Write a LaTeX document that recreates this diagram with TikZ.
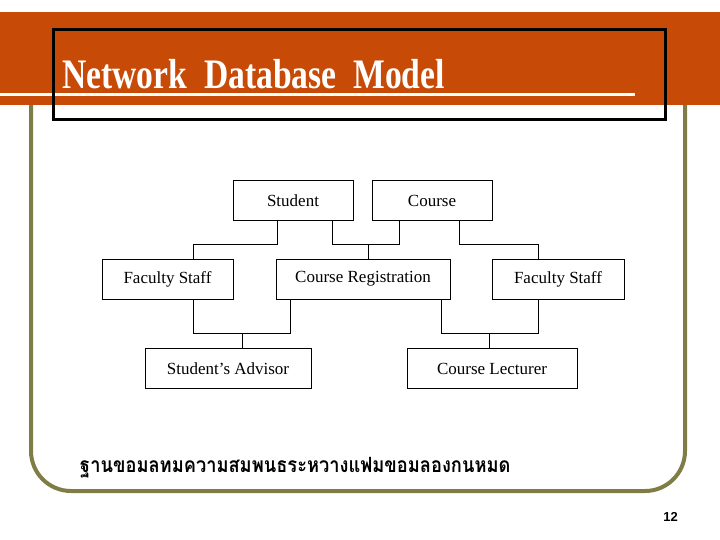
\documentclass[tikz,border=0pt]{standalone}
\usepackage{fontspec}
\setmainfont{Liberation Serif}
\newfontfamily\thaifont[Script=Thai]{Loma}
\newfontfamily\numfont{Liberation Sans}
\usetikzlibrary{positioning}
\definecolor{band}{RGB}{199,74,6}
\definecolor{olive}{RGB}{128,124,70}
\tikzset{
  entity/.style={draw,line width=0.6pt,minimum height=40pt,inner sep=0pt,font=\fontsize{17}{19}\selectfont},
  link/.style={line width=0.6pt}
}
\begin{document}
\begin{tikzpicture}[x=1pt,y=-1pt]
        \useasboundingbox (0,0) rectangle (720,540);

        % Slide frame
        \fill[band] (0,12) rectangle (720,105);
        \draw[olive,line width=4pt,rounded corners=40pt] (31,105) -- (31,491) -- (685,491) -- (685,105);
        \draw[white,line width=3pt] (0,95) -- (635,95);
        \draw[line width=3pt] (53,30) rectangle (665,120);
        \node[anchor=base west,text=white,inner sep=0pt] (title) at (62,89)
          {\scalebox{0.8}[1]{\fontsize{42}{44}\selectfont\bfseries Network\ \ Database\ \ Model}};

        % Records
        \node[entity,minimum width=120pt] (student) at (293,200.5) {Student};
        \node[entity,minimum width=120pt] (course) at (432,200.5) {Course};
        \node[entity,minimum width=131pt] (staffl) at (167.5,279) {Faculty Staff};
        \node[entity,minimum width=174pt] (reg) at (363,279) {Course Registration};
        \node[entity,minimum width=132pt] (staffr) at (558,279) {Faculty Staff};
        \node[entity,minimum width=166pt] (advisor) at (228,368.5) {Student's Advisor};
        \node[entity,minimum width=170pt] (lecturer) at (492,368.5) {Course Lecturer};

        % Links
        \draw[link] (student.south -| 277,0) |- (193,244) -- (staffl.north -| 193,0);
        \draw[link] (student.south -| 332,0) |- (399,244) -- (course.south -| 399,0);
        \draw[link] (368,244) -- (reg.north -| 368,0);
        \draw[link] (course.south -| 459,0) |- (538,244) -- (staffr.north -| 538,0);
        \draw[link] (staffl.south -| 193,0) |- (290,333) -- (reg.south -| 290,0);
        \draw[link] (242,333) -- (advisor.north -| 242,0);
        \draw[link] (reg.south -| 441,0) |- (538,333) -- (staffr.south -| 538,0);
        \draw[link] (489,333) -- (lecturer.north -| 489,0);

        % Caption and page number
        \node[anchor=base west,inner sep=0pt] (caption) at (80,472)
          {\scalebox{0.87}[1]{\thaifont\bfseries\fontsize{21}{23}\selectfont ฐานขอมลทมความสมพนธระหวางแฟมขอมลองกนหมด}};
        \node[anchor=base east,inner sep=0pt] (page) at (678,521) {\numfont\bfseries\fontsize{13}{15}\selectfont 12};
    \end{tikzpicture}
\end{document}
